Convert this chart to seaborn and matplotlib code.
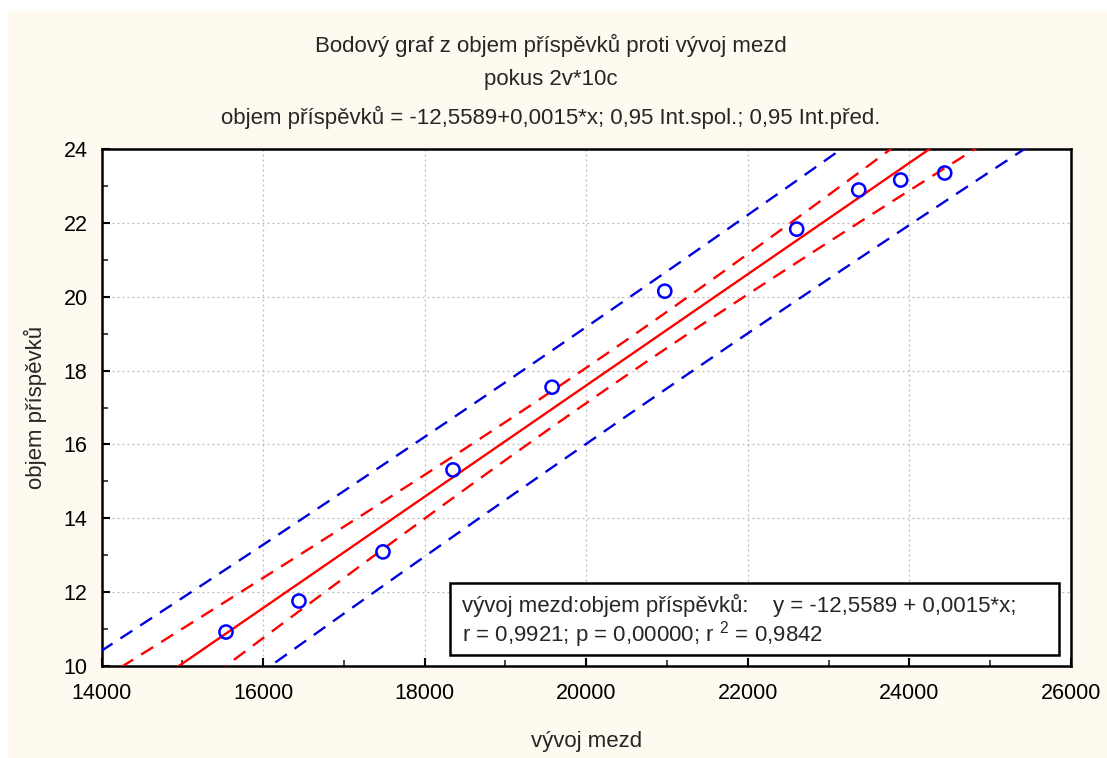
import numpy as np
import pandas as pd
import matplotlib
matplotlib.use("Agg")
import matplotlib.pyplot as plt
import seaborn as sns
from matplotlib.patches import Rectangle
from matplotlib.ticker import MultipleLocator

# data
vyvoj_mezd = [15541, 16444, 17484, 18351, 19577, 20972, 22605, 23373, 23892, 24437]
objem_prispevku = [10.92, 11.76, 13.09, 15.31, 17.55, 20.15, 21.83, 22.89, 23.16, 23.35]
title_lines = ["Bodový graf z objem příspěvků proti vývoj mezd",
               "pokus 2v*10c",
               "objem příspěvků = -12,5589+0,0015*x; 0,95 Int.spol.; 0,95 Int.před."]
legend_lines = ["vývoj mezd:objem příspěvků:    y = -12,5589 + 0,0015*x;",
                "r = 0,9921; p = 0,00000; r $^{2}$ = 0,9842"]
x_label = "vývoj mezd"
y_label = "objem příspěvků"
t_975_8 = 2.306

sns.set_theme(style="white")
plt.rcParams['font.family'] = ['Liberation Sans', 'DejaVu Sans']
plt.rcParams['mathtext.fontset'] = 'custom'
plt.rcParams['mathtext.rm'] = 'Liberation Sans'

df = pd.DataFrame({"x": vyvoj_mezd, "y": objem_prispevku})
x = np.array(vyvoj_mezd, float)
y = np.array(objem_prispevku, float)
n = len(x)
b, a = np.polyfit(x, y, 1)
res = y - (a + b * x)
s = np.sqrt(np.sum(res ** 2) / (n - 2))
xm = x.mean()
sxx = np.sum((x - xm) ** 2)
xs = np.linspace(13500, 26500, 400)
yf = a + b * xs
ci = t_975_8 * s * np.sqrt(1 / n + (xs - xm) ** 2 / sxx)
pi = t_975_8 * s * np.sqrt(1 + 1 / n + (xs - xm) ** 2 / sxx)

W, H = 1107, 758
fig = plt.figure(figsize=(W / 100, H / 100), dpi=100, facecolor="white")
fig.patches.append(Rectangle((8 / W, 0), 1, 1 - 11 / H, transform=fig.transFigure,
                             facecolor="#FFFAEF", edgecolor="none", zorder=-10))
ax = fig.add_axes([101.5 / W, 1 - 666 / H, (1071 - 101.5) / W, (666 - 149) / H])
ax.set_facecolor("white")

dash = (0, (6, 4))
ax.plot(xs, yf, color="red", lw=1.7, zorder=3)
ax.plot(xs, yf + ci, color="red", lw=1.7, ls=dash, zorder=3)
ax.plot(xs, yf - ci, color="red", lw=1.7, ls=dash, zorder=3)
ax.plot(xs, yf + pi, color="#0000DD", lw=1.7, ls=dash, zorder=3)
ax.plot(xs, yf - pi, color="#0000DD", lw=1.7, ls=dash, zorder=3)
sns.scatterplot(data=df, x="x", y="y", ax=ax, marker="o", s=90,
                facecolor="none", edgecolor="#0000FF", linewidth=1.8, zorder=4)

ax.set_xlim(14000, 26000)
ax.set_ylim(10, 24)
ax.xaxis.set_major_locator(MultipleLocator(2000))
ax.xaxis.set_minor_locator(MultipleLocator(1000))
ax.yaxis.set_major_locator(MultipleLocator(2))
ax.yaxis.set_minor_locator(MultipleLocator(1))
ax.tick_params(which="major", direction="in", length=6, width=1.5, labelsize=15.5,
               pad=10, colors="black", bottom=True, left=True)
ax.tick_params(which="minor", direction="in", length=4, width=1.2, bottom=True, left=True)
ax.tick_params(axis="x", which="major", pad=12)
ax.grid(True, which="major", color="#b8b8b8", ls=(0, (1.5, 2.5)), lw=0.9, zorder=0)
for sp in ax.spines.values():
    sp.set_visible(True)
    sp.set_color("black")
    sp.set_linewidth(1.8)
ax.set_xlabel(x_label, fontsize=16, labelpad=20)
ax.set_ylabel(y_label, fontsize=16, labelpad=12)

cx = 551 / W
for txt, yy in zip(title_lines, [45, 80, 117]):
    fig.text(cx, 1 - yy / H, txt, ha="center", va="center", fontsize=16)

ax.add_patch(Rectangle((450 / W, 1 - 655 / H), (1059 - 450) / W, (655 - 583) / H,
                       transform=fig.transFigure, facecolor="white", edgecolor="black",
                       lw=1.8, zorder=6))
fig.text(462 / W, 1 - 605 / H, legend_lines[0], ha="left", va="center", fontsize=16, zorder=7)
fig.text(462 / W, 1 - 635 / H, legend_lines[1], ha="left", va="center", fontsize=16, zorder=7)

fig.savefig("out.png", dpi=100, facecolor=fig.get_facecolor())
